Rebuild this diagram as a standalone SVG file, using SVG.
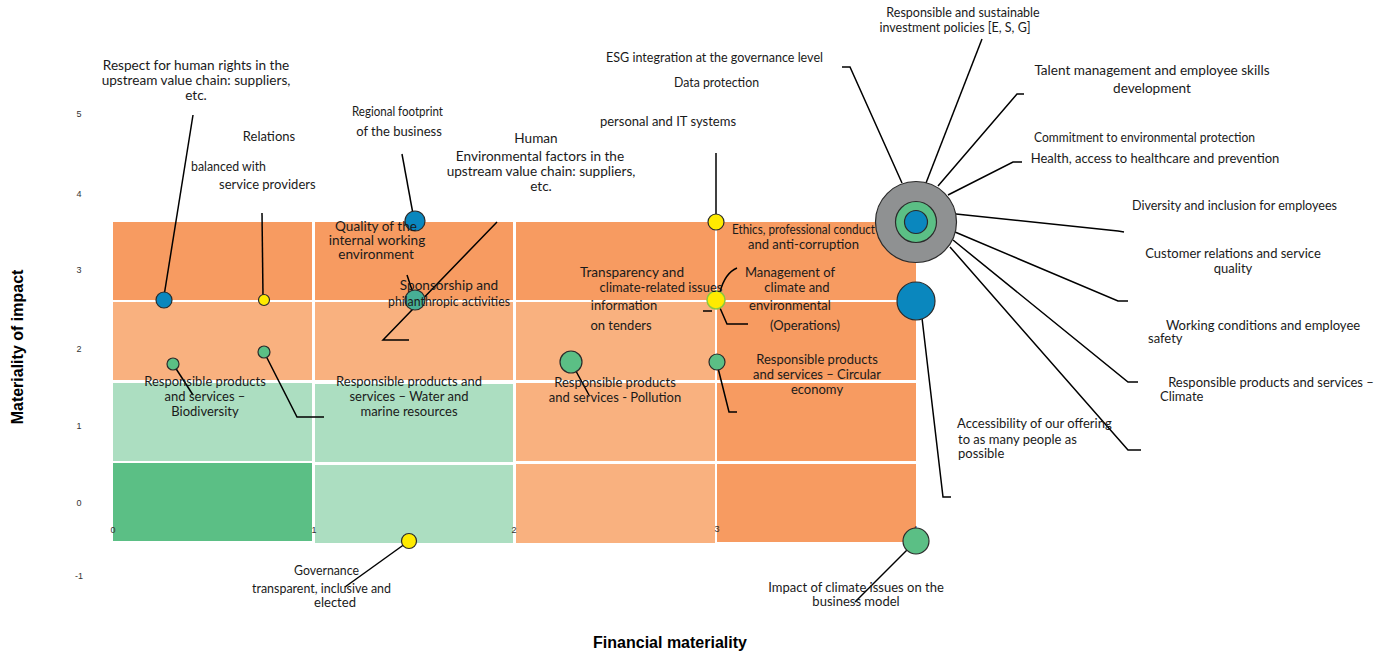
<svg xmlns="http://www.w3.org/2000/svg" width="1391" height="656" viewBox="0 0 1391 656">
<style>
.lbl{font-family:Lato,"Liberation Sans",sans-serif;font-size:13px;fill:#1a1a1a}
.c{text-anchor:middle}
.b{font-size:13.6px}
.n{font-size:12.5px}
.tick{font-family:"Liberation Sans",Arial,sans-serif;font-size:9px;fill:#333;text-anchor:middle}
.ax{font-family:"Liberation Sans",Arial,sans-serif;font-weight:bold;font-size:16px;fill:#000;text-anchor:middle}
.ln{stroke:#000;stroke-width:1.5;fill:none}
.dk{fill:#F79B61}.lo{fill:#F9B17F}.lg{fill:#ACDEC1}.dg{fill:#5BBF85}
.dot{stroke:#2b2b2b;stroke-width:1.2}
.blue{fill:#0A87BE}.green{fill:#5BBF85}.yellow{fill:#FFEB00}.gray{fill:#8F9192}
</style>
<rect width="1391" height="656" fill="#fff"/>
<g id="grid">
<rect class="dk" x="113" y="222" width="199" height="78"/>
<rect class="dk" x="315" y="222" width="198" height="78"/>
<rect class="dk" x="516" y="222" width="199" height="78"/>
<rect class="dk" x="717" y="222" width="199" height="78"/>
<rect class="lo" x="113" y="302" width="199" height="78"/>
<rect class="lo" x="315" y="302" width="198" height="78"/>
<rect class="lo" x="516" y="302" width="199" height="78"/>
<rect class="dk" x="717" y="302" width="199" height="78"/>
<rect class="lg" x="113" y="383" width="199" height="78"/>
<rect class="lg" x="315" y="384" width="198" height="78"/>
<rect class="lo" x="516" y="383" width="199" height="78"/>
<rect class="dk" x="717" y="383" width="199" height="78"/>
<rect class="dg" x="113" y="463" width="199" height="78"/>
<rect class="lg" x="315" y="465" width="198" height="78"/>
<rect class="lo" x="516" y="464" width="199" height="79"/>
<rect class="dk" x="717" y="464" width="199" height="78"/>
</g>
<g id="axes">
<text class="tick" x="79" y="117">5</text>
<text class="tick" x="79" y="197">4</text>
<text class="tick" x="79" y="273">3</text>
<text class="tick" x="79" y="352">2</text>
<text class="tick" x="79" y="429">1</text>
<text class="tick" x="79" y="506">0</text>
<text class="tick" x="79" y="579">-1</text>
<text class="tick" x="113" y="533">0</text>
<text class="tick" x="314" y="533">1</text>
<text class="tick" x="514" y="533">2</text>
<text class="tick" x="717" y="532">3</text>
<text class="tick" x="915" y="532">4</text>
<text class="ax" x="670" y="648">Financial materiality</text>
<text class="ax" transform="translate(23,347) rotate(-90)">Materiality of impact</text>
</g>
<g id="connectors">
<path class="ln" d="M193,115 L164,296"/>
<path class="ln" d="M262,213 L263,296"/>
<path class="ln" d="M402,154 L413,214"/>
<path class="ln" d="M497,222 L383,340 L409,340"/>
<path class="ln" d="M407,275 L414,296"/>
<path class="ln" d="M716,153 L716,214"/>
<path class="ln" d="M720,292 Q725,273 737,268"/>
<path class="ln" d="M703,311 L712,311"/>
<path class="ln" d="M720,308 L727,324 L748,324"/>
<path class="ln" d="M173,364 L193,395"/>
<path class="ln" d="M264,352 L297,417 L324,417"/>
<path class="ln" d="M571,362 L589,395"/>
<path class="ln" d="M718,368 L729,412 L737,412"/>
<path class="ln" d="M409,541 L345,587"/>
<path class="ln" d="M916,541 L855,602"/>
<path class="ln" d="M922,318 L943,497 L951,497"/>
<path class="ln" d="M842,67 L850,67 L902,183"/>
<path class="ln" d="M982,39 L926,183"/>
<path class="ln" d="M1024,94 L1017,94 L938,186"/>
<path class="ln" d="M1022,162 L1013,162 L948,195"/>
<path class="ln" d="M956,214 L1118,231 L1124,232"/>
<path class="ln" d="M955,232 L1118,301 L1128,301"/>
<path class="ln" d="M953,240 L1128,382 L1138,382"/>
<path class="ln" d="M950,247 L1128,450 L1141,450"/>
</g>
<g id="n-hub">
<circle class="dot gray" cx="916" cy="222" r="40.5"/>
<circle class="dot green" cx="916" cy="222" r="20.5"/>
<circle class="dot blue" cx="916" cy="222" r="11.5"/>
</g>
<g id="n-respect">
<circle class="dot blue" cx="164" cy="300" r="8"/>
<text class="lbl b c" x="196" y="70">Respect for human rights in the</text>
<text class="lbl b c" x="196" y="85">upstream value chain: suppliers,</text>
<text class="lbl b c" x="196" y="100">etc.</text>
</g>
<g id="n-relations">
<circle class="dot yellow" cx="264" cy="300" r="5.5"/>
<text class="lbl c" x="269" y="141">Relations</text>
<text class="lbl" x="191" y="171" textLength="75" lengthAdjust="spacingAndGlyphs">balanced with</text>
<text class="lbl" x="219" y="189">service providers</text>
</g>
<g id="n-regional">
<circle class="dot blue" cx="415" cy="221" r="10"/>
<text class="lbl" x="352" y="116" textLength="91" lengthAdjust="spacingAndGlyphs">Regional footprint</text>
<text class="lbl c" x="399" y="136">of the business</text>
</g>
<g id="n-human">
<text class="lbl b c" x="536" y="143">Human</text>
<text class="lbl b c" x="540" y="161">Environmental factors in the</text>
<text class="lbl b c" x="541" y="176">upstream value chain: suppliers,</text>
<text class="lbl b c" x="541" y="191">etc.</text>
</g>
<g id="n-quality">
<circle class="dot" fill="#47AF95" cx="415" cy="300" r="10"/>
<text class="lbl b c" x="376" y="231">Quality of the</text>
<text class="lbl b c" x="377" y="245">internal working</text>
<text class="lbl b c" x="376" y="259">environment</text>
</g>
<g id="n-sponsorship">
<text class="lbl b c" x="449" y="290">Sponsorship and</text>
<text class="lbl" x="388" y="306" textLength="122" lengthAdjust="spacingAndGlyphs">philanthropic activities</text>
</g>
<g id="n-esg">
<text class="lbl" x="606" y="62" textLength="217" lengthAdjust="spacingAndGlyphs">ESG integration at the governance level</text>
</g>
<g id="n-data">
<circle class="dot yellow" cx="716" cy="222" r="8"/>
<text class="lbl" x="674" y="87" textLength="85" lengthAdjust="spacingAndGlyphs">Data protection</text>
<text class="lbl c" x="668" y="126">personal and IT systems</text>
</g>
<g id="n-ethics">
<text class="lbl" x="732" y="234" textLength="143" lengthAdjust="spacingAndGlyphs">Ethics, professional conduct</text>
<text class="lbl" x="748" y="249" textLength="111" lengthAdjust="spacingAndGlyphs">and anti-corruption</text>
</g>
<g id="n-transparency">
<circle class="dot yellow" cx="716" cy="300" r="9" style="stroke:#8DC63F;stroke-width:1.5"/>
<text class="lbl b c" x="632" y="277">Transparency and</text>
<text class="lbl c" x="661" y="292">climate-related issues</text>
<text class="lbl c" x="624" y="310">information</text>
<text class="lbl c" x="621" y="330">on tenders</text>
</g>
<g id="n-management">
<text class="lbl c" x="790" y="277">Management of</text>
<text class="lbl c" x="797" y="292">climate and</text>
<text class="lbl c" x="790" y="310">environmental</text>
<text class="lbl c" x="805" y="330">(Operations)</text>
</g>
<g id="n-biodiversity">
<circle class="dot green" cx="173" cy="364" r="6"/>
<text class="lbl c" x="205" y="386">Responsible products</text>
<text class="lbl c" x="205" y="401">and services –</text>
<text class="lbl c" x="205" y="416">Biodiversity</text>
</g>
<g id="n-water">
<circle class="dot green" cx="264" cy="352" r="6"/>
<text class="lbl c" x="409" y="386">Responsible products and</text>
<text class="lbl c" x="409" y="401">services – Water and</text>
<text class="lbl c" x="409" y="416">marine resources</text>
</g>
<g id="n-pollution">
<circle class="dot green" cx="571" cy="362" r="11"/>
<text class="lbl c" x="615" y="387">Responsible products</text>
<text class="lbl c" x="615" y="402">and services - Pollution</text>
</g>
<g id="n-circular">
<circle class="dot green" cx="717" cy="362" r="8"/>
<text class="lbl c" x="817" y="364">Responsible products</text>
<text class="lbl c" x="817" y="379">and services – Circular</text>
<text class="lbl c" x="817" y="394">economy</text>
</g>
<g id="n-governance">
<circle class="dot yellow" cx="409" cy="541" r="7.5"/>
<text class="lbl" x="294" y="575" textLength="65" lengthAdjust="spacingAndGlyphs">Governance</text>
<text class="lbl" x="252" y="593" textLength="139" lengthAdjust="spacingAndGlyphs">transparent, inclusive and</text>
<text class="lbl" x="314" y="607" textLength="42" lengthAdjust="spacingAndGlyphs">elected</text>
</g>
<g id="n-impact">
<circle class="dot green" cx="916" cy="541" r="13"/>
<text class="lbl c" x="856" y="592">Impact of climate issues on the</text>
<text class="lbl c" x="856" y="606">business model</text>
</g>
<g id="n-accessibility">
<circle class="dot blue" cx="916" cy="301" r="19"/>
<text class="lbl" x="957" y="428">Accessibility of our offering</text>
<text class="lbl" x="958" y="444">to as many people as</text>
<text class="lbl" x="958" y="458">possible</text>
</g>
<g id="n-investment">
<text class="lbl n c" x="963" y="17">Responsible and sustainable</text>
<text class="lbl n c" x="955" y="32">investment policies [E, S, G]</text>
</g>
<g id="n-talent">
<text class="lbl b c" x="1152" y="75">Talent management and employee skills</text>
<text class="lbl b c" x="1152" y="93">development</text>
</g>
<g id="n-commitment">
<text class="lbl" x="1034" y="142" textLength="221" lengthAdjust="spacingAndGlyphs">Commitment to environmental protection</text>
</g>
<g id="n-health">
<text class="lbl c" x="1155" y="163">Health, access to healthcare and prevention</text>
</g>
<g id="n-diversity">
<text class="lbl" x="1132" y="210" textLength="205" lengthAdjust="spacingAndGlyphs">Diversity and inclusion for employees</text>
</g>
<g id="n-customer">
<text class="lbl c" x="1233" y="258">Customer relations and service</text>
<text class="lbl c" x="1233" y="273">quality</text>
</g>
<g id="n-working">
<text class="lbl c" x="1263" y="330">Working conditions and employee</text>
<text class="lbl" x="1148" y="343">safety</text>
</g>
<g id="n-climate">
<text class="lbl c" x="1271" y="387">Responsible products and services –</text>
<text class="lbl" x="1160" y="401">Climate</text>
</g>
</svg>
